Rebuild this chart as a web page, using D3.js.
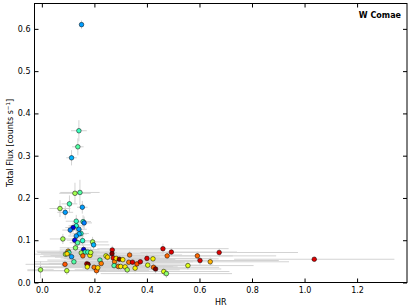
<!DOCTYPE html>
<html>
<head>
<meta charset="utf-8">
<script src="https://d3js.org/d3.v7.min.js"></script>
<style>
  body { margin: 0; background: #fff; }
  text { font-family: "DejaVu Sans", sans-serif; }
</style>
</head>
<body>
<div id="my_dataviz"></div>
<script>
// data
var hr      = [0.151, 0.141, 0.137, 0.113, 0.145, 0.126, 0.105, 0.154, 0.069, 0.089,
               0.131, 0.157, 0.161, 0.131, 0.119, 0.108, 0.141, 0.149, 0.142, 0.131,
               0.080, 0.125, 0.155, 0.136, 0.193, 0.197, 0.128, 0.159, 0.100, 0.103,
               0.090, 0.096, 0.150, 0.165, 0.175, 0.183, 0.186, 0.113, 0.156, 0.122,
               0.221, 0.244, 0.250, 0.171, 0.176, 0.173, 0.088, -0.005, 0.095, 0.199,
               0.208, 0.213, 0.226, 0.268, 0.267, 0.272, 0.277, 0.283, 0.295, 0.308,
               0.275, 0.291, 0.300, 0.317, 0.325, 0.331, 0.334, 0.345, 0.355, 0.362,
               0.375, 0.400, 0.423, 0.403, 0.425, 0.433, 0.461, 0.493, 0.477, 0.464,
               0.474, 0.556, 0.592, 0.602, 0.641, 0.675, 1.037];
var flux    = [0.610, 0.359, 0.321, 0.295, 0.213, 0.211, 0.186, 0.178, 0.175, 0.166,
               0.145, 0.144, 0.141, 0.134, 0.130, 0.124, 0.126, 0.116, 0.115, 0.110,
               0.103, 0.100, 0.099, 0.094, 0.096, 0.089, 0.082, 0.078, 0.074, 0.071,
               0.067, 0.068, 0.070, 0.072, 0.072, 0.064, 0.071, 0.061, 0.063, 0.049,
               0.053, 0.063, 0.060, 0.044, 0.043, 0.037, 0.043, 0.030, 0.028, 0.036,
               0.028, 0.035, 0.045, 0.077, 0.068, 0.058, 0.049, 0.057, 0.055, 0.054,
               0.040, 0.038, 0.038, 0.037, 0.030, 0.048, 0.065, 0.048, 0.034, 0.044,
               0.049, 0.057, 0.056, 0.041, 0.036, 0.032, 0.080, 0.072, 0.063, 0.026,
               0.021, 0.040, 0.063, 0.052, 0.049, 0.071, 0.055];
var hrErr   = [0.008, 0.030, 0.022, 0.020, 0.075, 0.060, 0.030, 0.020, 0.040, 0.030,
               0.040, 0.030, 0.030, 0.030, 0.030, 0.030, 0.030, 0.030, 0.030, 0.030,
               0.050, 0.030, 0.030, 0.030, 0.060, 0.060, 0.060, 0.060, 0.120, 0.120,
               0.120, 0.100, 0.120, 0.100, 0.100, 0.150, 0.100, 0.120, 0.150, 0.150,
               0.200, 0.200, 0.200, 0.200, 0.200, 0.200, 0.150, 0.050, 0.150, 0.200,
               0.200, 0.200, 0.200, 0.200, 0.200, 0.200, 0.200, 0.200, 0.200, 0.200,
               0.200, 0.200, 0.200, 0.200, 0.200, 0.200, 0.200, 0.200, 0.200, 0.200,
               0.200, 0.250, 0.250, 0.250, 0.250, 0.250, 0.250, 0.250, 0.250, 0.250,
               0.250, 0.250, 0.300, 0.300, 0.300, 0.300, 0.305];
var fluxErr = [0.010, 0.025, 0.020, 0.018, 0.030, 0.025, 0.020, 0.015, 0.020, 0.015,
               0.015, 0.015, 0.015, 0.015, 0.012, 0.012, 0.012, 0.012, 0.012, 0.012,
               0.012, 0.012, 0.012, 0.012, 0.012, 0.012, 0.010, 0.010, 0.010, 0.010,
               0.010, 0.010, 0.010, 0.010, 0.010, 0.010, 0.010, 0.010, 0.010, 0.010,
               0.010, 0.010, 0.010, 0.010, 0.010, 0.010, 0.010, 0.020, 0.010, 0.010,
               0.010, 0.010, 0.010, 0.010, 0.010, 0.010, 0.010, 0.010, 0.010, 0.010,
               0.010, 0.010, 0.010, 0.010, 0.010, 0.010, 0.010, 0.010, 0.010, 0.010,
               0.010, 0.010, 0.010, 0.010, 0.010, 0.010, 0.012, 0.010, 0.010, 0.010,
               0.010, 0.010, 0.010, 0.010, 0.010, 0.010, 0.005];
// colour value (0..1) of each point on the jet map
var cval    = [0.28, 0.42, 0.45, 0.30, 0.45, 0.55, 0.43, 0.28, 0.55, 0.28,
               0.42, 0.42, 0.25, 0.40, 0.08, 0.25, 0.28, 0.40, 0.30, 0.28,
               0.55, 0.10, 0.40, 0.45, 0.55, 0.30, 0.52, 0.08, 0.72, 0.42,
               0.55, 0.68, 0.55, 0.42, 0.42, 0.65, 0.58, 0.28, 0.80, 0.45,
               0.45, 0.62, 0.68, 0.92, 1.00, 0.65, 0.82, 0.55, 0.58, 0.78,
               0.80, 0.68, 0.78, 0.92, 1.00, 0.90, 0.78, 0.68, 1.00, 0.66,
               0.45, 0.78, 0.66, 0.66, 0.55, 0.78, 0.80, 0.92, 0.65, 0.82,
               0.92, 0.92, 0.65, 0.62, 0.80, 1.00, 0.92, 0.92, 0.80, 0.62,
               0.52, 0.62, 0.80, 0.92, 0.72, 0.92, 0.92];
var xTicks = [0.0, 0.2, 0.4, 0.6, 0.8, 1.0, 1.2];
var yTicks = [0.0, 0.1, 0.2, 0.3, 0.4, 0.5, 0.6];

var margin = {top: 3.5, right: 4, bottom: 25.5, left: 34.5},
    width = 411 - margin.left - margin.right,
    height = 308 - margin.top - margin.bottom;

var svg = d3.select("#my_dataviz")
  .append("svg")
    .attr("width", 411)
    .attr("height", 308)
  .append("g")
    .attr("transform", "translate(" + margin.left + "," + margin.top + ")");

var x = d3.scaleLinear().domain([-0.028, 1.39]).range([0, width]);
var y = d3.scaleLinear().domain([0, 0.66]).range([height, 0]);

// matplotlib "jet", channel by channel
var jr = d3.scaleLinear().domain([0, 0.35, 0.66, 0.89, 1]).range([0, 0, 1, 1, 0.5]).clamp(true);
var jg = d3.scaleLinear().domain([0, 0.125, 0.375, 0.64, 0.91, 1]).range([0, 0, 1, 1, 0, 0]).clamp(true);
var jb = d3.scaleLinear().domain([0, 0.11, 0.34, 0.65, 1]).range([0.5, 1, 1, 0, 0]).clamp(true);
var jet = function(v) {
  return d3.rgb(jr(v) * 255, jg(v) * 255, jb(v) * 255).toString();
};

var data = hr.map(function(d, i) {
  return {hr: d, flux: flux[i], hrErr: hrErr[i], fluxErr: fluxErr[i], c: cval[i]};
});

// error bars
var bars = svg.append("g");
bars.selectAll("line.h")
  .data(data)
  .enter()
  .append("line")
    .attr("x1", function(d) { return x(d.hr - d.hrErr); })
    .attr("x2", function(d) { return x(d.hr + d.hrErr); })
    .attr("y1", function(d) { return y(d.flux); })
    .attr("y2", function(d) { return y(d.flux); })
    .style("stroke", "#d3d3d3")
    .style("stroke-width", 1);
bars.selectAll("line.v")
  .data(data)
  .enter()
  .append("line")
    .attr("x1", function(d) { return x(d.hr); })
    .attr("x2", function(d) { return x(d.hr); })
    .attr("y1", function(d) { return y(d.flux - d.fluxErr); })
    .attr("y2", function(d) { return y(d.flux + d.fluxErr); })
    .style("stroke", "#d3d3d3")
    .style("stroke-width", 1);

// points
svg.append("g")
  .selectAll("circle")
  .data(data)
  .enter()
  .append("circle")
    .attr("cx", function(d) { return x(d.hr); })
    .attr("cy", function(d) { return y(d.flux); })
    .attr("r", 2.3)
    .style("fill", function(d) { return jet(d.c); })
    .style("stroke", "#000")
    .style("stroke-width", 0.5);

// axes: ticks inside on all four sides
var tl = 4;
svg.append("g")
  .attr("transform", "translate(0," + height + ")")
  .call(d3.axisBottom(x).tickValues(xTicks).tickFormat(d3.format(".1f")).tickSizeInner(-tl).tickSizeOuter(0).tickPadding(5));
svg.append("g")
  .call(d3.axisTop(x).tickValues(xTicks).tickFormat("").tickSizeInner(-tl).tickSizeOuter(0));
svg.append("g")
  .call(d3.axisLeft(y).tickValues(yTicks).tickFormat(d3.format(".1f")).tickSizeInner(-tl).tickSizeOuter(0).tickPadding(4));
svg.append("g")
  .attr("transform", "translate(" + width + ",0)")
  .call(d3.axisRight(y).tickValues(yTicks).tickFormat("").tickSizeInner(-tl).tickSizeOuter(0));

svg.selectAll(".domain").remove();
svg.selectAll(".tick text")
  .style("font-size", "8px")
  .style("font-family", "DejaVu Sans")
  .style("fill", "#000");
svg.selectAll(".tick line").style("stroke", "#000");

// frame
svg.append("rect")
  .attr("width", width)
  .attr("height", height)
  .style("fill", "none")
  .style("stroke", "#000")
  .style("stroke-width", 1);

// labels
svg.append("text")
  .attr("text-anchor", "middle")
  .attr("x", width / 2)
  .attr("y", height + 22)
  .style("font-size", "8px")
  .text("HR");

var yl = svg.append("text")
  .attr("text-anchor", "middle")
  .attr("transform", "rotate(-90)")
  .attr("x", -height / 2)
  .attr("y", -22)
  .style("font-size", "8px");
yl.append("tspan").text("Total Flux [counts s");
yl.append("tspan").attr("dy", -3).style("font-size", "5.5px").text("\u22121");
yl.append("tspan").attr("dy", 3).text("]");

svg.append("text")
  .attr("text-anchor", "end")
  .attr("x", width - 6)
  .attr("y", 14)
  .style("font-size", "8px")
  .style("font-weight", "bold")
  .text("W Comae");
</script>
</body>
</html>
